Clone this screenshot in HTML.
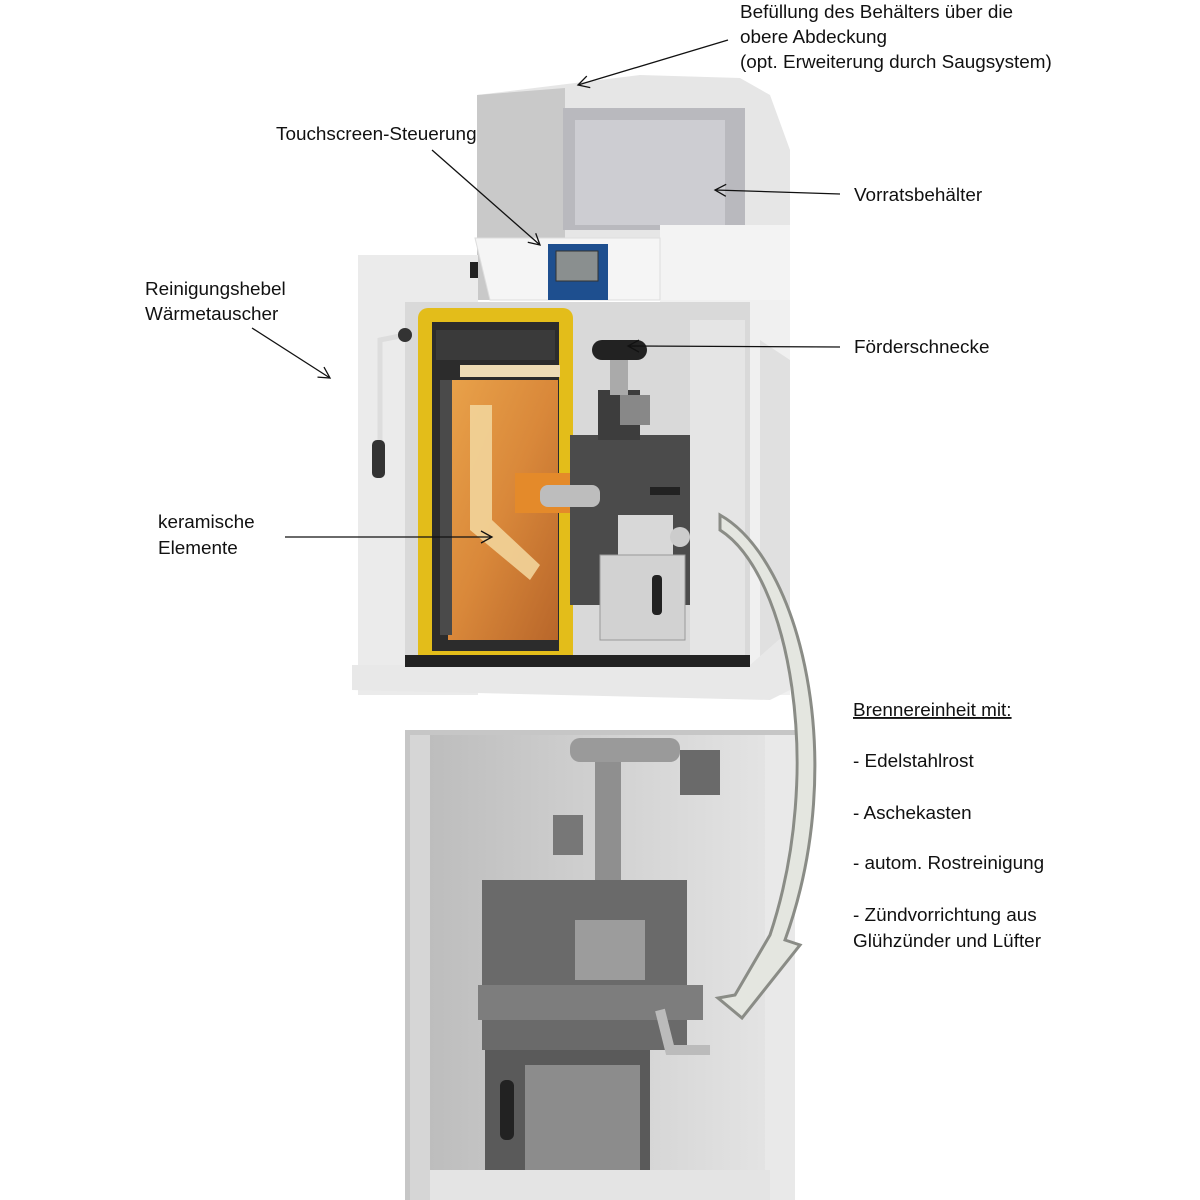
<!DOCTYPE html>
<html><head><meta charset="utf-8"><style>
body{margin:0;background:#fff}
svg{display:block}
text{font-family:"Liberation Sans",sans-serif;font-size:18.9px;fill:#111}
</style></head><body>
<svg width="1200" height="1200" viewBox="0 0 1200 1200" xmlns="http://www.w3.org/2000/svg">
<defs>
<marker id="ah" markerWidth="14" markerHeight="14" refX="12" refY="7" orient="auto" markerUnits="userSpaceOnUse">
<polyline points="1,1 12,7 1,13" fill="none" stroke="#111" stroke-width="1.3"/></marker>
<linearGradient id="or" x1="0" y1="0" x2="1" y2="1"><stop offset="0" stop-color="#e9a24a"/><stop offset="0.5" stop-color="#d9883a"/><stop offset="1" stop-color="#b8662a"/></linearGradient>
<linearGradient id="gr" x1="0" y1="0" x2="1" y2="0"><stop offset="0" stop-color="#bdbdbd"/><stop offset="1" stop-color="#e4e4e4"/></linearGradient>
</defs>

<!-- top hopper -->
<path d="M477,95 L640,75 L740,78 L770,95 L790,150 L790,300 L477,300 Z" fill="#e6e6e6"/>
<path d="M477,95 L565,88 L565,300 L477,300 Z" fill="#c9c9c9"/>
<rect x="563" y="108" width="182" height="122" fill="#b9b9be"/>
<rect x="575" y="120" width="150" height="105" fill="#cdcdd2"/>
<rect x="660" y="225" width="130" height="80" fill="#f3f3f3"/>
<!-- control panel -->
<path d="M475,238 L660,238 L660,300 L490,300 Z" fill="#f5f5f5" stroke="#ddd"/>
<rect x="548" y="244" width="60" height="56" fill="#1e4f8f"/>
<rect x="556" y="251" width="42" height="30" fill="#8a8f8f" stroke="#333"/>
<!-- main boiler -->
<rect x="358" y="255" width="120" height="440" fill="#ebebeb"/>
<rect x="470" y="262" width="8" height="16" fill="#222"/>
<rect x="660" y="300" width="130" height="395" fill="#f0f0f0"/>
<path d="M760,340 L790,360 L790,640 L760,660 Z" fill="#e0e0e0"/>
<rect x="405" y="302" width="345" height="365" fill="#d9d9d9"/>
<rect x="690" y="320" width="55" height="340" fill="#e5e5e5"/>
<!-- lever -->
<path d="M405,335 L380,340 L380,450" fill="none" stroke="#ddd" stroke-width="5"/>
<circle cx="405" cy="335" r="7" fill="#333"/>
<rect x="372" y="440" width="13" height="38" rx="5" fill="#333"/>
<!-- insulation -->
<rect x="418" y="308" width="155" height="357" rx="10" fill="#e3bd1a"/>
<rect x="432" y="322" width="127" height="329" fill="#2c2c2c"/>
<rect x="436" y="330" width="119" height="30" fill="#3a3a3a"/>
<rect x="460" y="365" width="100" height="12" fill="#eedcb5"/>
<rect x="448" y="380" width="110" height="260" fill="url(#or)"/>
<rect x="440" y="380" width="12" height="255" fill="#4a4a4a"/>
<path d="M470,405 L492,405 L492,520 L540,565 L530,580 L470,530 Z" fill="#f2d49a" opacity="0.9"/>
<rect x="515" y="473" width="55" height="40" fill="#e48a2a"/>
<!-- burner -->
<rect x="570" y="435" width="120" height="170" fill="#4b4b4b"/>
<rect x="598" y="390" width="42" height="50" fill="#3d3d3d"/>
<rect x="610" y="355" width="18" height="40" fill="#aaa"/>
<rect x="592" y="340" width="55" height="20" rx="10" fill="#222"/>
<rect x="620" y="395" width="30" height="30" fill="#888"/>
<rect x="540" y="485" width="60" height="22" rx="8" fill="#bdbdbd"/>
<rect x="618" y="515" width="55" height="40" fill="#d8d8d8"/>
<circle cx="680" cy="537" r="10" fill="#ccc"/>
<rect x="600" y="555" width="85" height="85" fill="#d2d2d2" stroke="#999"/>
<rect x="652" y="575" width="10" height="40" rx="4" fill="#222"/>
<rect x="650" y="487" width="30" height="8" fill="#222"/>
<!-- base -->
<path d="M352,665 L750,665 L790,630 L790,690 L770,700 L352,690 Z" fill="#e8e8e8"/>
<rect x="405" y="655" width="345" height="12" fill="#222"/>

<!-- bottom image -->
<rect x="405" y="730" width="390" height="470" fill="#c6c6c6"/>
<rect x="430" y="735" width="340" height="465" fill="url(#gr)"/>
<rect x="765" y="735" width="30" height="465" fill="#e9e9e9"/>
<rect x="410" y="735" width="20" height="465" fill="#d6d6d6"/>
<rect x="595" y="740" width="26" height="200" fill="#8f8f8f"/>
<rect x="570" y="738" width="110" height="24" rx="10" fill="#9a9a9a"/>
<rect x="680" y="750" width="40" height="45" fill="#6a6a6a"/>
<rect x="553" y="815" width="30" height="40" fill="#777"/>
<rect x="482" y="880" width="205" height="170" fill="#6a6a6a"/>
<rect x="575" y="920" width="70" height="60" fill="#9c9c9c"/>
<rect x="478" y="985" width="225" height="35" fill="#7d7d7d"/>
<path d="M660,1010 L670,1050 L710,1050" fill="none" stroke="#bbb" stroke-width="10"/>
<rect x="485" y="1050" width="165" height="140" fill="#5a5a5a"/>
<rect x="525" y="1065" width="115" height="125" fill="#8c8c8c"/>
<rect x="500" y="1080" width="14" height="60" rx="6" fill="#222"/>
<rect x="430" y="1170" width="340" height="30" fill="#e4e4e4"/>

<!-- curved arrow -->
<path d="M720,515 C800,560 850,760 785,940 L800,945 L742,1018 L718,998 L735,995 L770,935 C825,770 790,575 720,530 Z" fill="#e4e6e0" stroke="#8a8c86" stroke-width="3"/>

<!-- connectors -->
<g stroke="#111" stroke-width="1.3" fill="none" marker-end="url(#ah)">
<line x1="728" y1="40" x2="578" y2="85"/>
<line x1="432" y1="150" x2="540" y2="245"/>
<line x1="840" y1="194" x2="715" y2="190"/>
<line x1="252" y1="328" x2="330" y2="378"/>
<line x1="840" y1="347" x2="628" y2="346"/>
<line x1="285" y1="537" x2="492" y2="537"/>
</g>

<!-- labels -->
<text x="740" y="18">Befüllung des Behälters über die</text>
<text x="740" y="43">obere Abdeckung</text>
<text x="740" y="68">(opt. Erweiterung durch Saugsystem)</text>
<text x="276" y="140">Touchscreen-Steuerung</text>
<text x="854" y="201">Vorratsbehälter</text>
<text x="145" y="295">Reinigungshebel</text>
<text x="145" y="320">Wärmetauscher</text>
<text x="854" y="353">Förderschnecke</text>
<text x="158" y="528">keramische</text>
<text x="158" y="554">Elemente</text>
<text x="853" y="716" text-decoration="underline">Brennereinheit mit:</text>
<text x="853" y="767">- Edelstahlrost</text>
<text x="853" y="819">- Aschekasten</text>
<text x="853" y="869">- autom. Rostreinigung</text>
<text x="853" y="921">- Zündvorrichtung aus</text>
<text x="853" y="947">Glühzünder und Lüfter</text>
</svg>
</body></html>
